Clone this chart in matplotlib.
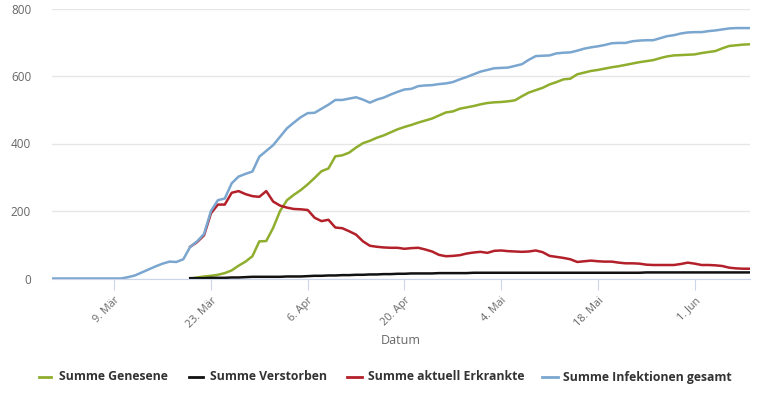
import numpy as np
import pandas as pd
import matplotlib.pyplot as plt
from matplotlib.lines import Line2D

plt.rcParams['font.family'] = ['Open Sans', 'DejaVu Sans']

# Daily values, 29 Feb 2020 .. 9 Jun 2020
dates = pd.date_range('2020-02-29', '2020-06-09', freq='D')

infektionen = [0, 0, 0, 0, 0, 0, 0, 0, 0, 0,
               0, 4, 9, 18, 27, 36, 44, 50, 49, 57,
               94, 110, 132, 200, 232, 237, 282, 302, 310, 317,
               361, 378, 395, 420, 445, 462, 478, 490, 491, 503,
               515, 529, 529, 533, 537, 530, 521, 530, 536, 545,
               553, 560, 562, 570, 572, 573, 576, 578, 582, 590,
               597, 605, 613, 618, 623, 624, 625, 630, 635, 648,
               659, 660, 661, 667, 669, 670, 675, 681, 685, 688,
               692, 697, 698, 698, 703, 705, 706, 706, 712, 718,
               721, 726, 729, 730, 730, 733, 735, 738, 741, 742,
               742, 742]

# the other series begin on 20 March (index 20)
start = 20
genesene = [0, 3, 6, 8, 11, 16, 24, 38, 50, 66,
            110, 111, 150, 200, 232, 248, 262, 279, 298, 318,
            326, 362, 365, 373, 388, 401, 408, 417, 424, 433,
            442, 449, 455, 462, 468, 474, 483, 492, 495, 503,
            507, 511, 516, 520, 522, 523, 525, 528, 540, 551,
            558, 565, 575, 582, 590, 592, 605, 610, 615, 618,
            622, 626, 629, 633, 637, 641, 644, 647, 653, 658,
            661, 662, 663, 664, 668, 671, 674, 682, 689, 691,
            693, 694]
erkrankte = [94, 108, 128, 193, 219, 219, 254, 259, 250, 244,
             242, 259, 228, 216, 210, 206, 205, 203, 180, 170,
             174, 151, 149, 140, 130, 110, 97, 94, 92, 91,
             91, 88, 90, 91, 86, 80, 70, 66, 67, 69,
             74, 77, 79, 76, 82, 83, 81, 80, 79, 80,
             83, 78, 67, 64, 61, 57, 49, 51, 53, 51,
             50, 50, 47, 45, 45, 44, 41, 40, 40, 40,
             40, 43, 47, 44, 40, 40, 39, 37, 32, 30,
             29, 29]
verstorben = [1, 1, 1, 2, 2, 2, 3, 3, 4, 5,
              5, 5, 5, 5, 6, 6, 6, 7, 8, 8,
              9, 9, 10, 10, 11, 11, 12, 12, 13, 13,
              14, 14, 15, 15, 15, 15, 16, 16, 16, 16,
              16, 17, 17, 17, 17, 17, 17, 17, 17, 17,
              17, 17, 17, 17, 17, 17, 17, 17, 17, 17,
              17, 17, 17, 17, 17, 17, 18, 18, 18, 18,
              18, 18, 18, 18, 18, 18, 18, 18, 18, 18,
              18, 18]

tick_dates = pd.to_datetime(['2020-03-09', '2020-03-23', '2020-04-06', '2020-04-20',
                             '2020-05-04', '2020-05-18', '2020-06-01'])
tick_labels = ['9. Mär', '23. Mär', '6. Apr', '20. Apr', '4. Mai', '18. Mai', '1. Jun']

c_green = '#8fae2e'
c_black = '#111111'
c_red = '#b3202a'
c_blue = '#7aa6cf'

W, H = 768, 403
fig = plt.figure(figsize=(W / 100, H / 100), dpi=100)
ax = fig.add_axes([52 / W, 1 - 278.5 / H, 698 / W, 270 / H])

series = [
    (dates[start:], genesene, c_green, 'Summe Genesene'),
    (dates[start:], verstorben, c_black, 'Summe Verstorben'),
    (dates[start:], erkrankte, c_red, 'Summe aktuell Erkrankte'),
    (dates, infektionen, c_blue, 'Summe Infektionen gesamt'),
]
for x, y, c, lab in series:
    ax.plot(x, y, color=c, lw=1.8, label=lab)

ax.set_xlim(dates[0], dates[-1])
ax.set_ylim(0, 800)
ax.set_yticks([0, 200, 400, 600, 800])
ax.grid(axis='y', color='#e6e6e6', lw=1)
ax.set_axisbelow(True)

for s in ['top', 'right', 'left']:
    ax.spines[s].set_visible(False)
ax.spines['bottom'].set_color('#ccd6eb')

ax.set_xticks(tick_dates)
ax.set_xticklabels(tick_labels, rotation=45, ha='right', va='top', rotation_mode='anchor')
ax.tick_params(axis='x', colors='#ccd6eb', length=8, labelcolor='#666666',
               labelsize=7.8, pad=4)
ax.tick_params(axis='y', length=0, labelcolor='#666666', labelsize=8.5, pad=15)

fig.text(401 / W, 1 - 340 / H, 'Datum', color='#666666', fontsize=9,
         ha='center', va='center')

# legend row, laid out like the reference
legend_x = [(39, 51, 59), (189, 203, 210), (347, 362, 368), (542, 558, 563)]
ly = 1 - 377 / H
for (x0, x1, xt), (_, _, c, lab) in zip(legend_x, series):
    fig.add_artist(Line2D([x0 / W, x1 / W], [ly, ly], color=c, lw=2,
                          transform=fig.transFigure))
    fig.text(xt / W, ly, lab, color='#333333', fontsize=8.8, fontweight='bold',
             ha='left', va='center')

fig.savefig('out.png', dpi=100)
